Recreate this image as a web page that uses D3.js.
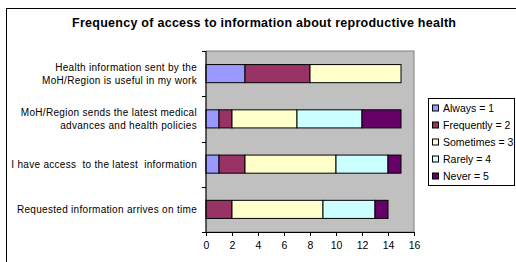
<!DOCTYPE html>
<html>
<head>
<meta charset="utf-8">
<script src="https://cdn.jsdelivr.net/npm/d3@7"></script>
<style>
  body { margin: 0; background: #fff; }
  text { font-family: "Liberation Sans", Arial, sans-serif; }
</style>
</head>
<body>
<svg id="chart" width="516" height="262"></svg>
<script>
var categories = [
  ["Health information sent by the", "MoH/Region is useful in my work"],
  ["MoH/Region sends the latest medical", "advances and health policies"],
  ["I have access  to the latest  information"],
  ["Requested information arrives on time"]
];
var seriesNames = ["Always = 1", "Frequently = 2", "Sometimes = 3", "Rarely = 4", "Never = 5"];
var always     = [3, 1, 1, 0];
var frequently = [5, 1, 2, 2];
var sometimes  = [7, 5, 7, 7];
var rarely     = [0, 5, 4, 4];
var never      = [0, 3, 1, 1];
var xTicks = [0, 2, 4, 6, 8, 10, 12, 14, 16];

var colors = ["#9999FF", "#993366", "#FFFFCC", "#CCFFFF", "#660066"];

var svg = d3.select("#chart");
var W = 516, H = 262,
  M = { top: 51, right: 102, bottom: 30, left: 206 };

// outer chart border
svg.append("rect")
  .attr("x", 6.5).attr("y", 8.5)
  .attr("width", W + 10).attr("height", H + 10)
  .attr("fill", "#fff").attr("stroke", "#000");

svg.append("text")
  .attr("x", 264).attr("y", 27)
  .attr("text-anchor", "middle")
  .attr("textLength", 384).attr("lengthAdjust", "spacing")
  .style("font-size", "12.5px").style("font-weight", "bold")
  .text("Frequency of access to information about reproductive health");

var rows = categories.map(function(c, i) {
  return { i: i, vals: [always[i], frequently[i], sometimes[i], rarely[i], never[i]] };
});

var x = d3.scaleLinear().domain([0, 16]).range([M.left, W - M.right]);
var y = d3.scaleBand().domain(d3.range(categories.length))
  .range([M.top, H - M.bottom]).paddingInner(0.6).paddingOuter(0.3);

// plot area
svg.append("rect")
  .attr("x", x(0)).attr("y", M.top)
  .attr("width", x(16) - x(0)).attr("height", H - M.bottom - M.top)
  .attr("fill", "#C0C0C0").attr("stroke", "#808080");

rows.forEach(function(r) {
  var acc = 0;
  r.vals.forEach(function(v, k) {
    if (v > 0) {
      svg.append("rect")
        .attr("x", x(acc)).attr("y", y(r.i))
        .attr("width", x(acc + v) - x(acc)).attr("height", y.bandwidth())
        .attr("fill", colors[k]).attr("stroke", "#000").attr("stroke-width", 1);
    }
    acc += v;
  });
});

// y axis with ticks at band boundaries
var yBase = H - M.bottom;
svg.append("line")
  .attr("x1", x(0)).attr("x2", x(0)).attr("y1", M.top).attr("y2", yBase)
  .attr("stroke", "#000");
d3.range(categories.length + 1).forEach(function(j) {
  var yy = Math.round(M.top + j * (yBase - M.top) / categories.length) + 0.5;
  svg.append("line")
    .attr("x1", x(0) - 4).attr("x2", x(0)).attr("y1", yy).attr("y2", yy)
    .attr("stroke", "#000");
});

// category labels
categories.forEach(function(lines, i) {
  var cy = y(i) + y.bandwidth() / 2;
  var t = svg.append("text")
    .attr("text-anchor", "end")
    .style("font-size", "10px")
    .style("letter-spacing", "0.3px")
    .style("white-space", "pre");
  lines.forEach(function(l, k) {
    t.append("tspan")
      .attr("x", 197)
      .attr("y", cy + (k - (lines.length - 1) / 2) * 13 + 3.5)
      .text(l);
  });
});

// x axis
var xAxis = d3.axisBottom(x).tickValues(xTicks).tickSize(4).tickSizeOuter(0).tickPadding(6);
var gx = svg.append("g")
  .attr("transform", "translate(0," + yBase + ")")
  .call(xAxis);
gx.select(".domain").attr("stroke", "#000");
gx.selectAll("line").attr("stroke", "#000");
gx.selectAll("text").style("font-size", "10.5px")
  .style("font-family", "'Liberation Sans', Arial, sans-serif").attr("fill", "#000");

// legend
var lg = svg.append("g");
lg.append("rect")
  .attr("x", 428.5).attr("y", 98.5).attr("width", 86).attr("height", 87)
  .attr("fill", "#fff").attr("stroke", "#000");
seriesNames.forEach(function(n, k) {
  var ly = 108.5 + k * 17;
  lg.append("rect")
    .attr("x", 432.5).attr("y", ly - 3.5).attr("width", 6).attr("height", 6)
    .attr("fill", colors[k]).attr("stroke", "#000");
  lg.append("text")
    .attr("x", 443).attr("y", ly + 3.5)
    .style("font-size", "10.5px")
    .text(n);
});
</script>
</body>
</html>
